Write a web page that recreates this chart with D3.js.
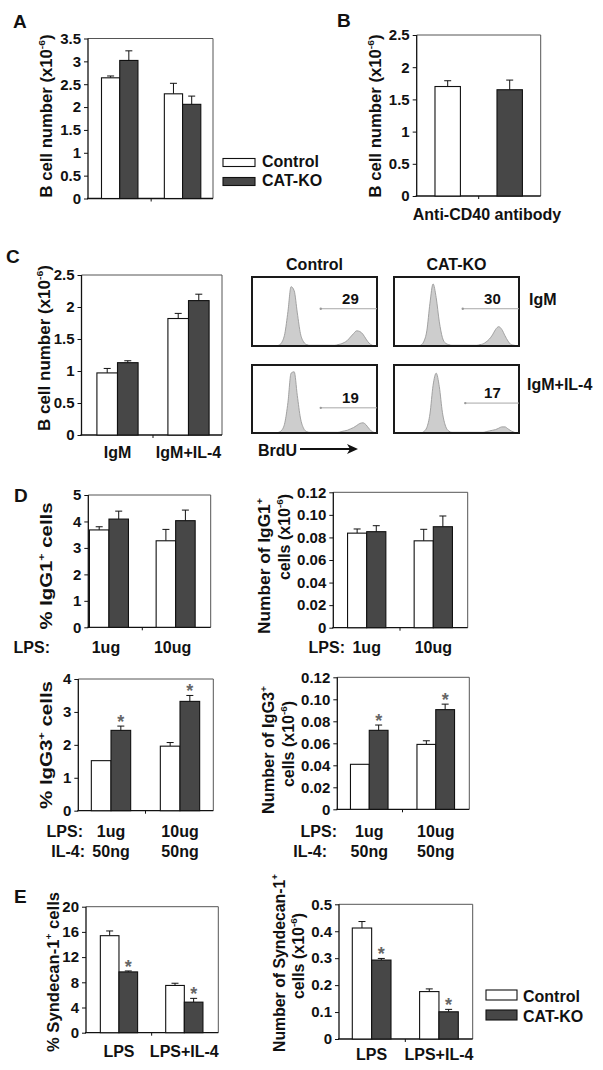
<!DOCTYPE html>
<html><head><meta charset="utf-8">
<script src="https://cdn.jsdelivr.net/npm/d3@7"></script>
<style>
body{margin:0;background:#fff}
svg{display:block}
text{font-family:"Liberation Sans",Arial,Helvetica,sans-serif;font-weight:bold;fill:#111}
</style>
</head><body>
<svg id="c" width="603" height="1070"></svg>
<script>
// ---------------- DATA ----------------
const series = ["Control", "CAT-KO"];

// Panel A
const aGroups = ["Day A1", "Day A2"];
const aControl = [2.64, 2.29];
const aControlErr = [0.04, 0.23];
const aKO = [3.02, 2.06];
const aKOErr = [0.21, 0.18];
const aTicks = [0, 0.5, 1, 1.5, 2, 2.5, 3, 3.5];

// Panel B
const bValues = [1.70, 1.65];
const bErr = [0.09, 0.15];
const bTicks = [0, 0.5, 1, 1.5, 2, 2.5];
const bLabel = "Anti-CD40 antibody";

// Panel C (bar chart)
const cGroups = ["IgM", "IgM+IL-4"];
const cControl = [0.97, 1.82];
const cControlErr = [0.07, 0.08];
const cKO = [1.13, 2.10];
const cKOErr = [0.03, 0.10];
const cTicks = [0, 0.5, 1, 1.5, 2, 2.5];

// Panel C (BrdU histograms), bin heights (% of frame height), 40 bins
const histCtrlIgM = [0,0,0,0,0,0,0,0,1,5,18,50,86,80,48,18,6,2,1,1,1,1,1,1,1,1,1,2,3,5,8,13,18,22,21,17,10,4,1,0];
const histKOIgM   = [0,0,0,0,0,0,0,0,1,6,22,62,90,70,35,12,4,2,1,1,1,1,1,1,1,1,1,2,3,6,10,16,24,28,24,15,7,2,1,0];
const histCtrlIL4 = [0,0,0,0,0,0,0,0,1,4,15,45,88,90,55,22,7,2,1,1,1,1,1,1,1,1,1,1,2,3,4,6,8,11,14,15,12,6,2,0];
const histKOIL4   = [0,0,0,0,0,0,0,0,0,2,8,28,70,88,68,30,10,3,1,1,1,1,1,1,1,1,1,1,1,2,3,4,5,7,9,9,6,3,1,0];
const brdUPercent = [29, 30, 19, 17];
const gateStartBin = [22, 22, 22, 22.8];
const gateLevel = [54, 54, 37, 44];
const histCols = ["Control", "CAT-KO"];
const histRows = ["IgM", "IgM+IL-4"];

// Panel D
const dGroups = ["1ug", "10ug"];
const dIL4 = ["50ng", "50ng"];
const dIgG1PctControl = [3.68, 3.27];
const dIgG1PctControlErr = [0.12, 0.43];
const dIgG1PctKO = [4.09, 4.03];
const dIgG1PctKOErr = [0.30, 0.40];
const dIgG1PctTicks = [0, 1, 2, 3, 4, 5];

const dIgG1NumControl = [0.0838, 0.0770];
const dIgG1NumControlErr = [0.0037, 0.0102];
const dIgG1NumKO = [0.0851, 0.0895];
const dIgG1NumKOErr = [0.0053, 0.0095];
const dNumTicks = [0, 0.02, 0.04, 0.06, 0.08, 0.10, 0.12];

const dIgG3PctControl = [1.52, 1.96];
const dIgG3PctControlErr = [0, 0.11];
const dIgG3PctKO = [2.44, 3.32];
const dIgG3PctKOErr = [0.13, 0.18];
const dIgG3PctTicks = [0, 1, 2, 3, 4];

const dIgG3NumControl = [0.0409, 0.0590];
const dIgG3NumControlErr = [0, 0.0033];
const dIgG3NumKO = [0.0718, 0.0906];
const dIgG3NumKOErr = [0.0048, 0.0050];

// Panel E
const eGroups = ["LPS", "LPS+IL-4"];
const eSynPctControl = [15.4, 7.5];
const eSynPctControlErr = [0.75, 0.35];
const eSynPctKO = [9.65, 4.85];
const eSynPctKOErr = [0.15, 0.6];
const eSynPctTicks = [0, 4, 8, 12, 16, 20];

const eSynNumControl = [0.412, 0.176];
const eSynNumControlErr = [0.024, 0.010];
const eSynNumKO = [0.293, 0.101];
const eSynNumKOErr = [0.006, 0.009];
const eSynNumTicks = [0, 0.1, 0.2, 0.3, 0.4, 0.5];

// ---------------- DRAWING ----------------
const svg = d3.select("#c");
const fillOf = {"Control": "#ffffff", "CAT-KO": "#474747"};

function rich(t, parts, fs) {
  let shifted = false;
  parts.forEach(([s, sup]) => {
    const ts = t.append("tspan").text(s);
    if (sup) { ts.attr("font-size", fs * 0.62).attr("dy", -fs * 0.42); shifted = true; }
    else if (shifted) { ts.attr("dy", fs * 0.42); shifted = false; }
  });
}

function yTitle(lines, fs) {
  lines.forEach(ln => {
    const t = svg.append("text")
      .attr("transform", `translate(${ln.x},${ln.y}) rotate(-90)`)
      .attr("text-anchor", "middle")
      .attr("font-size", fs);
    if (ln.len) t.attr("textLength", ln.len).attr("lengthAdjust", "spacingAndGlyphs");
    rich(t, ln.parts, fs);
  });
}

function label(txt, x, y, fs, anchor, color) {
  return svg.append("text").attr("x", x).attr("y", y).attr("font-size", fs)
    .attr("text-anchor", anchor || "middle").style("fill", color || "#111").text(txt);
}

function frame(box, y, ticks, fmt) {
  const g = svg.append("g");
  g.append("path").attr("d", `M${box.x0},${box.y0}H${box.x1}V${box.y1}`)
    .attr("fill", "none").attr("stroke", "#555").attr("stroke-width", 1);
  const ax = svg.append("g").attr("transform", `translate(${box.x0},0)`)
    .call(d3.axisLeft(y).tickValues(ticks).tickFormat(fmt).tickSize(4).tickPadding(3));
  ax.select(".domain").remove();
  ax.selectAll(".tick line").attr("stroke", "#111");
  ax.selectAll(".tick text").attr("font-size", 15).attr("font-family", null).style("fill", "#111");
  g.append("line").attr("x1", box.x0).attr("x2", box.x0).attr("y1", box.y0).attr("y2", box.y1)
    .attr("stroke", "#111").attr("stroke-width", 1.3);
  g.append("line").attr("x1", box.x0 - 1).attr("x2", box.x1).attr("y1", box.y1).attr("y2", box.y1)
    .attr("stroke", "#111").attr("stroke-width", 1.3);
}

function errBar(cx, yTop, yEnd) {
  svg.append("line").attr("x1", cx).attr("x2", cx).attr("y1", yTop).attr("y2", yEnd)
    .attr("stroke", "#111").attr("stroke-width", 1);
  svg.append("line").attr("x1", cx - 3.5).attr("x2", cx + 3.5).attr("y1", yEnd).attr("y2", yEnd)
    .attr("stroke", "#111").attr("stroke-width", 1);
}

function groupedPanel(cfg) {
  const y = d3.scaleLinear().domain([0, cfg.ticks[cfg.ticks.length - 1]]).range([cfg.box.y1, cfg.box.y0]);
  const gx = d3.scaleBand().domain(cfg.groups).range(cfg.g).paddingInner(cfg.pi).paddingOuter(cfg.pi / 2);
  const sx = d3.scaleBand().domain(series).range([0, gx.bandwidth()]);
  frame(cfg.box, y, cfg.ticks, cfg.fmt);
  const mid = (gx(cfg.groups[0]) + gx.bandwidth() + gx(cfg.groups[1])) / 2;
  svg.append("line").attr("x1", mid).attr("x2", mid).attr("y1", cfg.box.y1).attr("y2", cfg.box.y1 + 3)
    .attr("stroke", "#111");
  const rows = [];
  cfg.groups.forEach((grp, i) => {
    rows.push({grp, s: "Control", v: cfg.ctrl[i], e: cfg.ctrlErr[i], star: false});
    rows.push({grp, s: "CAT-KO", v: cfg.ko[i], e: cfg.koErr[i], star: !!cfg.stars});
  });
  rows.forEach(r => {
    const x = gx(r.grp) + sx(r.s);
    const w = sx.bandwidth();
    if (r.e > 0) errBar(x + w / 2, y(r.v), y(r.v + r.e));
    svg.append("rect").attr("x", x).attr("y", y(r.v)).attr("width", w).attr("height", y(0) - y(r.v))
      .attr("fill", fillOf[r.s]).attr("stroke", "#111").attr("stroke-width", 1.1);
    if (r.star) label("*", x + w / 2, y(r.v + r.e) + 2, 18, "middle", "#666");
  });
  return {gx, y};
}

const numTitle = (main) => [[main], ["+", true]];
const cellsTitle = [["cells (x10"], ["-6", true], [")"]];
const bTitle = [["B cell number (x10"], ["-6", true], [")"]];

// Title letters
label("A", 13, 28, 19, "start");
label("B", 337, 27, 19, "start");
label("C", 6, 263, 19, "start");
label("D", 14, 502, 19, "start");
label("E", 14, 903, 19, "start");

// ---- Panel A
groupedPanel({box: {x0: 88, x1: 213, y0: 38.5, y1: 198.5}, g: [88.3, 214], pi: 0.42,
  groups: aGroups, ctrl: aControl, ctrlErr: aControlErr, ko: aKO, koErr: aKOErr,
  ticks: aTicks, fmt: d => String(d)});
yTitle([{x: 52, y: 116, parts: bTitle, len: 163}], 16);

[0, 1].forEach(i => {
  svg.append("rect").attr("x", 223).attr("y", 158.5 + i * 19).attr("width", 32).attr("height", 8)
    .attr("fill", fillOf[series[i]]).attr("stroke", "#111").attr("stroke-width", 1.1);
  label(series[i], 262, 167 + i * 19, 16, "start");
});

// ---- Panel B
(function () {
  const box = {x0: 416.7, x1: 540.7, y0: 35, y1: 196};
  const y = d3.scaleLinear().domain([0, 2.5]).range([box.y1, box.y0]);
  const x = d3.scaleBand().domain(series).range([box.x0, box.x1]).paddingInner(0.59).paddingOuter(0.295);
  frame(box, y, bTicks, d => String(d));
  const mid = (box.x0 + box.x1) / 2;
  svg.append("line").attr("x1", mid).attr("x2", mid).attr("y1", box.y1).attr("y2", box.y1 + 3).attr("stroke", "#111");
  series.forEach((s, i) => {
    errBar(x(s) + x.bandwidth() / 2, y(bValues[i]), y(bValues[i] + bErr[i]));
    svg.append("rect").attr("x", x(s)).attr("y", y(bValues[i])).attr("width", x.bandwidth())
      .attr("height", y(0) - y(bValues[i])).attr("fill", fillOf[s]).attr("stroke", "#111").attr("stroke-width", 1.1);
  });
  label(bLabel, 487, 220, 16, "middle");
  yTitle([{x: 381, y: 116, parts: bTitle, len: 163}], 16);
})();

// ---- Panel C bars
(function () {
  const r = groupedPanel({box: {x0: 81.5, x1: 222, y0: 275, y1: 435}, g: [82, 224], pi: 0.42,
    groups: cGroups, ctrl: cControl, ctrlErr: cControlErr, ko: cKO, koErr: cKOErr,
    ticks: cTicks, fmt: d => String(d)});
  cGroups.forEach(gname => label(gname, r.gx(gname) + r.gx.bandwidth() / 2, 458, 16, "middle"));
  yTitle([{x: 50, y: 348, parts: bTitle, len: 166}], 16);
})();

// ---- Panel C histograms
(function () {
  const boxes = [
    {x0: 252, x1: 377, y0: 277, y1: 346},
    {x0: 394, x1: 519, y0: 277, y1: 346},
    {x0: 252, x1: 377, y0: 365, y1: 433},
    {x0: 394, x1: 519, y0: 365, y1: 433}
  ];
  const hists = [histCtrlIgM, histKOIgM, histCtrlIL4, histKOIL4];
  hists.forEach((h, i) => {
    const b = boxes[i];
    const x = d3.scaleLinear().domain([0, h.length]).range([b.x0, b.x1]);
    const y = d3.scaleLinear().domain([0, 100]).range([b.y1, b.y0]);
    const pts = h.map((v, k) => [k + 0.5, v]);
    const area = d3.area().x(d => x(d[0])).y0(y(0)).y1(d => y(d[1])).curve(d3.curveMonotoneX);
    svg.append("path").attr("d", area(pts)).attr("fill", "#cdcdcd").attr("stroke", "#9a9a9a").attr("stroke-width", 0.9);
    svg.append("rect").attr("x", b.x0).attr("y", b.y0).attr("width", b.x1 - b.x0).attr("height", b.y1 - b.y0)
      .attr("fill", "none").attr("stroke", "#1a1a1a").attr("stroke-width", 2);
    const gy = y(gateLevel[i]);
    svg.append("line").attr("x1", x(gateStartBin[i])).attr("x2", b.x1).attr("y1", gy).attr("y2", gy)
      .attr("stroke", "#a8a8a8").attr("stroke-width", 1);
    svg.append("circle").attr("cx", x(gateStartBin[i])).attr("cy", gy).attr("r", 1.2).attr("fill", "#999");
    label(String(brdUPercent[i]), x(31.5), gy - 5, 15, "middle");
  });
  label(histCols[0], (boxes[0].x0 + boxes[0].x1) / 2, 270, 16, "middle");
  label(histCols[1], (boxes[1].x0 + boxes[1].x1) / 2, 270, 16, "middle");
  label(histRows[0], 529, 305, 16, "start");
  label(histRows[1], 527, 390, 16, "start");
  label("BrdU", 258, 456, 16, "start");
  svg.append("line").attr("x1", 300).attr("x2", 350).attr("y1", 449).attr("y2", 449).attr("stroke", "#111").attr("stroke-width", 1.8);
  svg.append("path").attr("d", "M347,444L358,449L347,454L350,449Z").attr("fill", "#111");
})();

// ---- Panel D
const fmt2 = d => d === 0 ? "0" : d.toFixed(2);
(function () {
  const r1 = groupedPanel({box: {x0: 88.3, x1: 210.7, y0: 495, y1: 627.3}, g: [75.6, 209], pi: 0.415,
    groups: dGroups, ctrl: dIgG1PctControl, ctrlErr: dIgG1PctControlErr, ko: dIgG1PctKO, koErr: dIgG1PctKOErr,
    ticks: dIgG1PctTicks, fmt: d => String(d)});
  label("LPS:", 50, 653, 16, "end");
  dGroups.forEach(gname => label(gname, r1.gx(gname) + r1.gx.bandwidth() / 2 - 3, 653, 16, "middle"));
  yTitle([{x: 52, y: 566, parts: [["% IgG1"], ["+", true], [" cells"]], len: 127}], 16);

  const r2 = groupedPanel({box: {x0: 333.3, x1: 467.7, y0: 492.3, y1: 627.7}, g: [333.4, 466.6], pi: 0.425,
    groups: dGroups, ctrl: dIgG1NumControl, ctrlErr: dIgG1NumControlErr, ko: dIgG1NumKO, koErr: dIgG1NumKOErr,
    ticks: dNumTicks, fmt: fmt2});
  label("LPS:", 345, 653, 16, "end");
  dGroups.forEach(gname => label(gname, r2.gx(gname) + r2.gx.bandwidth() / 2, 653, 16, "middle"));
  yTitle([{x: 270, y: 566, parts: numTitle("Number of IgG1"), len: 136},
          {x: 290, y: 537, parts: cellsTitle}], 16);

  const r3 = groupedPanel({box: {x0: 78.3, x1: 213.3, y0: 679, y1: 810.7}, g: [76.5, 214.5], pi: 0.43,
    groups: dGroups, ctrl: dIgG3PctControl, ctrlErr: dIgG3PctControlErr, ko: dIgG3PctKO, koErr: dIgG3PctKOErr,
    ticks: dIgG3PctTicks, fmt: d => String(d), stars: true});
  label("LPS:", 83, 837, 16, "end");
  label("IL-4:", 85, 857, 16, "end");
  dGroups.forEach((gname, i) => {
    const cx = r3.gx(gname) + r3.gx.bandwidth() / 2;
    label(gname, cx, 837, 16, "middle");
    label(dIL4[i], cx, 857, 16, "middle");
  });
  yTitle([{x: 52, y: 745, parts: [["% IgG3"], ["+", true], [" cells"]], len: 128}], 16);

  const r4 = groupedPanel({box: {x0: 337.3, x1: 469.3, y0: 677.3, y1: 809.3}, g: [336, 469], pi: 0.435,
    groups: dGroups, ctrl: dIgG3NumControl, ctrlErr: dIgG3NumControlErr, ko: dIgG3NumKO, koErr: dIgG3NumKOErr,
    ticks: dNumTicks, fmt: fmt2, stars: true});
  label("LPS:", 337, 837, 16, "end");
  label("IL-4:", 327, 857, 16, "end");
  dGroups.forEach((gname, i) => {
    const cx = r4.gx(gname) + r4.gx.bandwidth() / 2;
    label(gname, cx, 837, 16, "middle");
    label(dIL4[i], cx, 857, 16, "middle");
  });
  yTitle([{x: 274, y: 750, parts: numTitle("Number of IgG3"), len: 128},
          {x: 294, y: 744, parts: cellsTitle}], 16);
})();

// ---- Panel E
(function () {
  const r1 = groupedPanel({box: {x0: 86, x1: 218.3, y0: 906.7, y1: 1032.7}, g: [86.3, 217], pi: 0.43,
    groups: eGroups, ctrl: eSynPctControl, ctrlErr: eSynPctControlErr, ko: eSynPctKO, koErr: eSynPctKOErr,
    ticks: eSynPctTicks, fmt: d => String(d), stars: true});
  eGroups.forEach(gname => label(gname, r1.gx(gname) + r1.gx.bandwidth() / 2, 1057, 16, "middle"));
  yTitle([{x: 59, y: 972, parts: [["% Syndecan-1"], ["+", true], [" cells"]], len: 160}], 16);

  const r2 = groupedPanel({box: {x0: 339, x1: 472.7, y0: 904.3, y1: 1039}, g: [338, 472.6], pi: 0.425,
    groups: eGroups, ctrl: eSynNumControl, ctrlErr: eSynNumControlErr, ko: eSynNumKO, koErr: eSynNumKOErr,
    ticks: eSynNumTicks, fmt: d => String(d), stars: true});
  eGroups.forEach(gname => label(gname, r2.gx(gname) + r2.gx.bandwidth() / 2, 1060, 16, "middle"));
  yTitle([{x: 285, y: 963, parts: numTitle("Number of Syndecan-1"), len: 178},
          {x: 304, y: 956, parts: cellsTitle}], 16);

  [0, 1].forEach(i => {
    svg.append("rect").attr("x", 486).attr("y", 990 + i * 20).attr("width", 31).attr("height", 10)
      .attr("fill", fillOf[series[i]]).attr("stroke", "#111").attr("stroke-width", 1.1);
    label(series[i], 523, 1001.5 + i * 20, 16, "start");
  });
})();
</script>
</body></html>
